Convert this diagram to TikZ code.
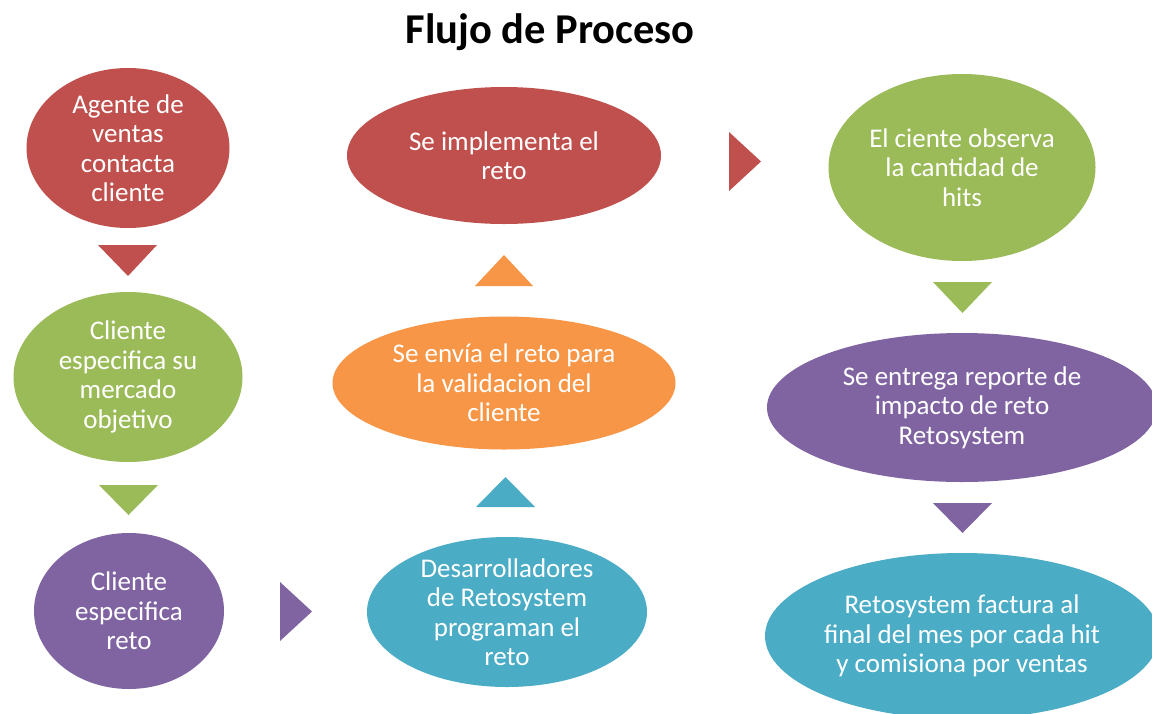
\documentclass[tikz,border=0pt]{standalone}
\usepackage{fontspec}
\setmainfont{Carlito}
\usetikzlibrary{shapes.geometric}
\definecolor{cred}{HTML}{C0504D}
\definecolor{cgreen}{HTML}{9BBB59}
\definecolor{cpurple}{HTML}{8064A2}
\definecolor{cteal}{HTML}{4BACC6}
\definecolor{corange}{HTML}{F79646}
\begin{document}
\begin{tikzpicture}[x=1pt,y=-1pt,
  blob/.style={ellipse, fill=#1, draw=none, inner sep=0pt},
  txt/.style={text=white, align=center, inner sep=0pt, font=\fontsize{27}{29.5}\selectfont},
  ttl/.style={font=\fontsize{42.5}{48}\selectfont\bfseries, inner sep=0pt, anchor=base}]
\useasboundingbox (0,0) rectangle (1152,713);
\clip (0,0) rectangle (1152,713);
\fill[white] (0,0) rectangle (1152,713);

\node[ttl] (title) at (550,43) {Flujo de Proceso};

% left column
\node[blob=cred, minimum width=203, minimum height=160] (a1) at (128,148) {};
\node[txt] (a1t) at (a1) {Agente de\\ventas\\contacta\\cliente};
\node[blob=cgreen, minimum width=229, minimum height=170] (a2) at (128,377) {};
\node[txt] (a2t) at (a2) {Cliente\\especifica su\\mercado\\objetivo};
\node[blob=cpurple, minimum width=190, minimum height=156] (a3) at (129,611) {};
\node[txt] (a3t) at (a3) {Cliente\\especifica\\reto};

% middle column
\node[blob=cteal, minimum width=280, minimum height=150] (b1) at (507,612) {};
\node[txt] (b1t) at (b1) {Desarrolladores\\de Retosystem\\programan el\\reto};
\node[blob=corange, minimum width=343, minimum height=133] (b2) at (504,383) {};
\node[txt] (b2t) at (b2) {Se envía el reto para\\la validacion del\\cliente};
\node[blob=cred, minimum width=314, minimum height=137] (b3) at (504,155.5) {};
\node[txt] (b3t) at (b3) {Se implementa el\\reto};

% right column
\node[blob=cgreen, minimum width=267, minimum height=187] (c1) at (962,167.5) {};
\node[txt] (c1t) at (c1) {El ciente observa\\la cantidad de\\hits};
\node[blob=cpurple, minimum width=390, minimum height=149] (c2) at (962,407.5) {};
\node[txt] (c2t) at (c2) {Se entrega reporte de\\impacto de reto\\Retosystem};
\node[blob=cteal, minimum width=394, minimum height=166] (c3) at (962,636) {};
\node[txt] (c3t) at (c3) {Retosystem factura al\\final del mes por cada hit\\y comisiona por ventas};

% triangles (arrows)
\fill[cred] (98,245) -- (157,245) -- (128,276) -- cycle;
\fill[cgreen] (99,485) -- (158,485) -- (128.5,515) -- cycle;
\fill[cpurple] (280,582) -- (312,611.5) -- (280,641) -- cycle;
\fill[cteal] (476,507) -- (535,507) -- (505.5,477) -- cycle;
\fill[corange] (475,286) -- (533,286) -- (504,255) -- cycle;
\fill[cred] (729,132) -- (761,161.5) -- (729,191) -- cycle;
\fill[cgreen] (933,282) -- (992,282) -- (962.5,313) -- cycle;
\fill[cpurple] (933,503) -- (992,503) -- (962.5,533) -- cycle;
\end{tikzpicture}
\end{document}
